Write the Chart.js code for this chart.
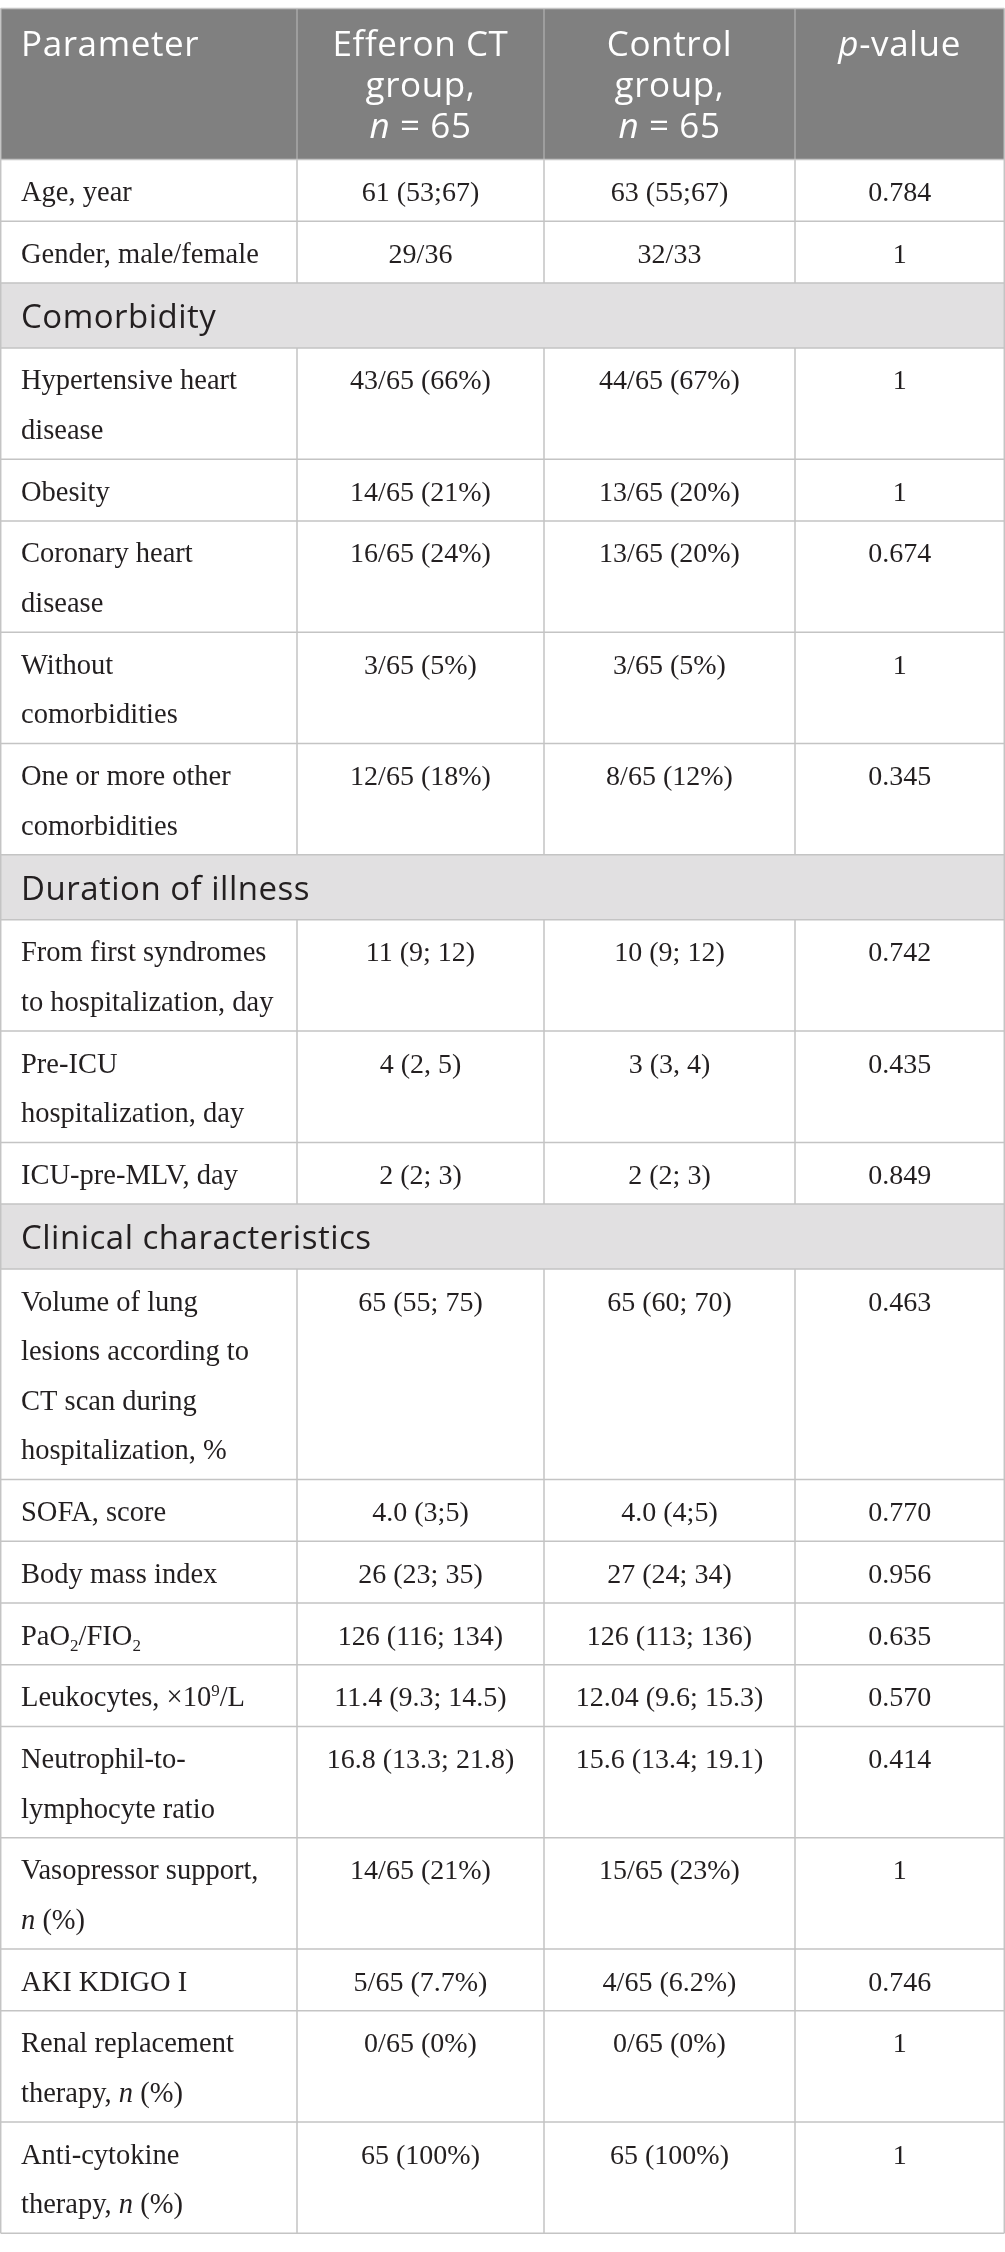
<!DOCTYPE html>
<html>
<head>
<meta charset="utf-8">
<script src="https://cdn.jsdelivr.net/npm/chart.js@4.4.0/dist/chart.umd.min.js"></script>
<style>
	html, body { margin: 0; padding: 0; background: #fff; }
	#wrap { width: 1005px; height: 2252px; }
</style>
</head>
<body>
<div id="wrap"><canvas id="table"></canvas></div>
<script>
// table content. _x_ = italic, ~x~ = subscript, ^x^ = superscript
const headers = [
	["Parameter"],
	["Efferon CT", "group,", "_n_ = 65"],
	["Control", "group,", "_n_ = 65"],
	["_p_-value"]
];

const sections = ["Comorbidity", "Duration of illness", "Clinical characteristics"];

const parameters = [
	["Age, year"],
	["Gender, male/female"],
	["Hypertensive heart", "disease"],
	["Obesity"],
	["Coronary heart", "disease"],
	["Without", "comorbidities"],
	["One or more other", "comorbidities"],
	["From first syndromes", "to hospitalization, day"],
	["Pre-ICU", "hospitalization, day"],
	["ICU-pre-MLV, day"],
	["Volume of lung", "lesions according to", "CT scan during", "hospitalization, %"],
	["SOFA, score"],
	["Body mass index"],
	["PaO~2~/FIO~2~"],
	["Leukocytes, ×10^9^/L"],
	["Neutrophil-to-", "lymphocyte ratio"],
	["Vasopressor support,", "_n_ (%)"],
	["AKI KDIGO I"],
	["Renal replacement", "therapy, _n_ (%)"],
	["Anti-cytokine", "therapy, _n_ (%)"]
];

// section each parameter belongs to (-1 = none)
const rowSection = [-1, -1, 0, 0, 0, 0, 0, 1, 1, 1, 2, 2, 2, 2, 2, 2, 2, 2, 2, 2];

const efferonValues = [
	"61 (53;67)", "29/36", "43/65 (66%)", "14/65 (21%)", "16/65 (24%)", "3/65 (5%)",
	"12/65 (18%)", "11 (9; 12)", "4 (2, 5)", "2 (2; 3)", "65 (55; 75)", "4.0 (3;5)",
	"26 (23; 35)", "126 (116; 134)", "11.4 (9.3; 14.5)", "16.8 (13.3; 21.8)",
	"14/65 (21%)", "5/65 (7.7%)", "0/65 (0%)", "65 (100%)"
];

const controlValues = [
	"63 (55;67)", "32/33", "44/65 (67%)", "13/65 (20%)", "13/65 (20%)", "3/65 (5%)",
	"8/65 (12%)", "10 (9; 12)", "3 (3, 4)", "2 (2; 3)", "65 (60; 70)", "4.0 (4;5)",
	"27 (24; 34)", "126 (113; 136)", "12.04 (9.6; 15.3)", "15.6 (13.4; 19.1)",
	"15/65 (23%)", "4/65 (6.2%)", "0/65 (0%)", "65 (100%)"
];

const pValues = [
	"0.784", "1", "1", "1", "0.674", "1", "0.345", "0.742", "0.435", "0.849",
	"0.463", "0.770", "0.956", "0.635", "0.570", "0.414", "1", "0.746", "1", "1"
];

// layout (scale units)
const colEdges = [0.7, 297, 544, 795, 1004.3];
const TOP = 8.5, HEADER_H = 151, SECTION_H = 65, ROW_BASE = 61.7, LINE_STEP = 49.6;

const SERIF = "'Liberation Serif', 'DejaVu Serif', serif";
const SANS = "'Open Sans', 'Noto Sans', sans-serif";
const INK = '#231f20';

function buildLayout() {
	let rows = [];
	let yPos = TOP + HEADER_H;
	let prev = -1;
	parameters.forEach((lines, i) => {
		if (rowSection[i] !== prev && rowSection[i] >= 0) {
			rows.push({ kind: 'section', top: yPos, bottom: yPos + SECTION_H, label: sections[rowSection[i]] });
			yPos += SECTION_H;
		}
		prev = rowSection[i];
		let h = ROW_BASE + (lines.length - 1) * LINE_STEP;
		rows.push({ kind: 'row', top: yPos, bottom: yPos + h, index: i });
		yPos += h;
	});
	return { rows, bottom: yPos };
}

function parseRich(str) {
	let parts = [];
	let re = /(_[^_]+_|~[^~]+~|\^[^\^]+\^)/g;
	let last = 0, m;
	while ((m = re.exec(str))) {
		if (m.index > last) parts.push({ t: str.slice(last, m.index), s: '' });
		parts.push({ t: m[0].slice(1, -1), s: m[0][0] });
		last = re.lastIndex;
	}
	if (last < str.length) parts.push({ t: str.slice(last), s: '' });
	return parts;
}

function drawRich(ctx, str, px, py, align, family, size, spacing) {
	let parts = parseRich(str);
	let fontFor = (p) => {
		if (p.s === '_') return `italic ${size}px ${family}`;
		if (p.s === '~' || p.s === '^') return `${Math.round(size * 0.6)}px ${family}`;
		return `${size}px ${family}`;
	};
	ctx.letterSpacing = (spacing || 0) + 'px';
	let total = 0;
	parts.forEach((p) => {
		ctx.font = fontFor(p);
		p.w = ctx.measureText(p.t).width;
		total += p.w;
	});
	let cx = (align === 'center') ? px - total / 2 : px;
	ctx.textAlign = 'left';
	ctx.textBaseline = 'alphabetic';
	parts.forEach((p) => {
		ctx.font = fontFor(p);
		let dy = 0;
		if (p.s === '~') dy = size * 0.22;
		if (p.s === '^') dy = -size * 0.36;
		ctx.fillText(p.t, cx, py + dy);
		cx += p.w;
	});
	ctx.letterSpacing = '0px';
}

const tablePlugin = {
	id: 'tableCells',
	afterDraw(chart) {
		const { ctx, scales: { x, y } } = chart;
		const { rows, bottom } = buildLayout();
		const px = (v) => x.getPixelForValue(v);
		const py = (v) => y.getPixelForValue(v);
		const centers = colEdges.slice(0, -1).map((e, i) => (e + colEdges[i + 1]) / 2);
		const left = px(colEdges[0]), right = px(colEdges[4]);

		ctx.save();

		// header
		ctx.fillStyle = '#808080';
		ctx.fillRect(left, py(TOP), right - left, py(TOP + HEADER_H) - py(TOP));
		ctx.fillStyle = '#ffffff';
		headers.forEach((lines, c) => {
			lines.forEach((line, k) => {
				let yy = py(TOP + 47.5 + k * 41);
				if (c === 0) drawRich(ctx, line, px(21), yy, 'left', SANS, 35, 0.6);
				else drawRich(ctx, line, px(centers[c]), yy, 'center', SANS, 35, 0.6);
			});
		});

		// body
		rows.forEach((r) => {
			if (r.kind === 'section') {
				ctx.fillStyle = '#e1e0e1';
				ctx.fillRect(left, py(r.top), right - left, py(r.bottom) - py(r.top));
				ctx.fillStyle = INK;
				drawRich(ctx, r.label, px(21), py(r.top + 45), 'left', SANS, 33, 0.5);
			} else {
				ctx.fillStyle = INK;
				parameters[r.index].forEach((line, k) => {
					drawRich(ctx, line, px(21), py(r.top + 41.5 + k * LINE_STEP), 'left', SERIF, 28.5, 0);
				});
				let firstBase = py(r.top + 41.5);
				drawRich(ctx, efferonValues[r.index], px(centers[1]), firstBase, 'center', SERIF, 28, 0);
				drawRich(ctx, controlValues[r.index], px(centers[2]), firstBase, 'center', SERIF, 28, 0);
				drawRich(ctx, pValues[r.index], px(centers[3]), firstBase, 'center', SERIF, 28, 0);
			}
		});

		// grid lines
		ctx.lineWidth = 1.5;
		ctx.strokeStyle = '#a9a9a9';
		for (let c = 1; c < 4; c++) {
			ctx.beginPath();
			ctx.moveTo(px(colEdges[c]), py(TOP));
			ctx.lineTo(px(colEdges[c]), py(TOP + HEADER_H));
			ctx.stroke();
		}
		ctx.strokeStyle = '#c4c4c4';
		ctx.beginPath();
		ctx.moveTo(left, py(TOP));
		ctx.lineTo(right, py(TOP));
		rows.forEach((r) => {
			ctx.moveTo(left, py(r.top));
			ctx.lineTo(right, py(r.top));
			if (r.kind === 'row') {
				for (let c = 1; c < 4; c++) {
					ctx.moveTo(px(colEdges[c]), py(r.top));
					ctx.lineTo(px(colEdges[c]), py(r.bottom));
				}
			}
		});
		ctx.moveTo(left, py(bottom));
		ctx.lineTo(right, py(bottom));
		ctx.moveTo(left, py(TOP));
		ctx.lineTo(left, py(bottom));
		ctx.moveTo(right, py(TOP));
		ctx.lineTo(right, py(bottom));
		ctx.stroke();

		ctx.restore();
	}
};

let tableChart = new Chart(document.getElementById('table'), {
	type: 'scatter',
	data: { datasets: [{ data: [] }] },
	options: {
		responsive: true,
		maintainAspectRatio: false,
		animation: false,
		events: [],
		layout: { padding: 0 },
		plugins: {
			legend: { display: false },
			tooltip: { enabled: false }
		},
		scales: {
			x: { type: 'linear', min: 0, max: 1005, display: false },
			y: { type: 'linear', min: 0, max: 2252, reverse: true, display: false }
		}
	},
	plugins: [tablePlugin]
});
</script>
</body>
</html>
